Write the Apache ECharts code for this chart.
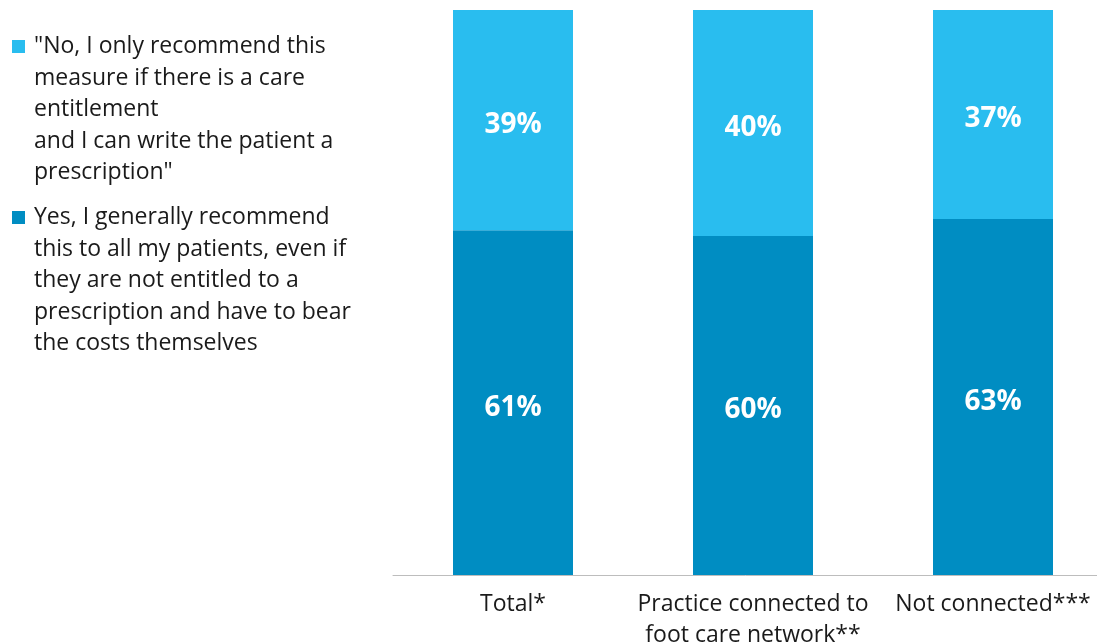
<!DOCTYPE html>
<html>
<head>
<meta charset="utf-8">
<script src="https://cdn.jsdelivr.net/npm/echarts@6/dist/echarts.min.js"></script>
<style>
  html, body { margin: 0; padding: 0; background: #ffffff; }
  #chart { width: 1097px; height: 643px; }
</style>
</head>
<body>
<div id="chart"></div>
<script>
// Survey groups along the x axis
const categories = ['Total*', 'Practice connected to\nfoot care network**', 'Not connected***'];

// Share of answers per group, in percent
const yesValues = [61, 60, 63];
const noValues = [39, 40, 37];

// Answer options (legend texts)
const yesName = 'Yes, I generally recommend\nthis to all my patients, even if\nthey are not entitled to a\nprescription and have to bear\nthe costs themselves';
const noName = '"No, I only recommend this\nmeasure if there is a care\nentitlement\nand I can write the patient a\nprescription"';

const FONT = '"Open Sans", "Noto Sans", sans-serif';
const colNo = '#29BDEF';
const colYes = '#008DC2';
const textCol = '#1a1a1a';

// Legend entries drawn top to bottom, first line aligned with the swatch
const legendItems = [
  { name: noName, color: colNo, top: 31 },
  { name: yesName, color: colYes, top: 202 }
];

const chart = echarts.init(document.getElementById('chart'), null, { renderer: 'canvas' });

const barLabel = {
  show: true,
  position: 'inside',
  offset: [0, 5],
  color: '#ffffff',
  fontFamily: FONT,
  fontWeight: 'bold',
  fontSize: 28,
  formatter: '{c}%'
};

chart.setOption({
  animation: false,
  backgroundColor: '#ffffff',
  grid: { left: 393, right: -16, top: 10, bottom: 68, containLabel: false, outerBoundsMode: 'none' },
  xAxis: {
    type: 'category',
    data: categories,
    axisLine: { show: true, lineStyle: { color: '#bdbdbd', width: 1 } },
    axisTick: { show: false },
    axisLabel: {
      color: textCol,
      fontFamily: FONT,
      fontSize: 23,
      lineHeight: 31,
      margin: 14,
      interval: 0
    }
  },
  yAxis: {
    type: 'value',
    min: 0,
    max: 100,
    show: false
  },
  series: [
    {
      name: yesName,
      type: 'bar',
      stack: 'total',
      barWidth: 120,
      data: yesValues,
      itemStyle: { color: colYes },
      label: barLabel
    },
    {
      name: noName,
      type: 'bar',
      stack: 'total',
      barWidth: 120,
      data: noValues,
      itemStyle: { color: colNo },
      label: barLabel
    }
  ],
  graphic: legendItems.map(function (it) {
    return {
      type: 'group',
      left: 12,
      top: it.top,
      children: [
        { type: 'rect', shape: { x: 0, y: 9, width: 13, height: 13 }, style: { fill: it.color } },
        {
          type: 'text',
          x: 22,
          y: 0,
          style: {
            text: it.name,
            fill: textCol,
            font: '23px ' + FONT,
            lineHeight: 31.5,
            verticalAlign: 'top'
          }
        }
      ]
    };
  })
});
</script>
</body>
</html>
